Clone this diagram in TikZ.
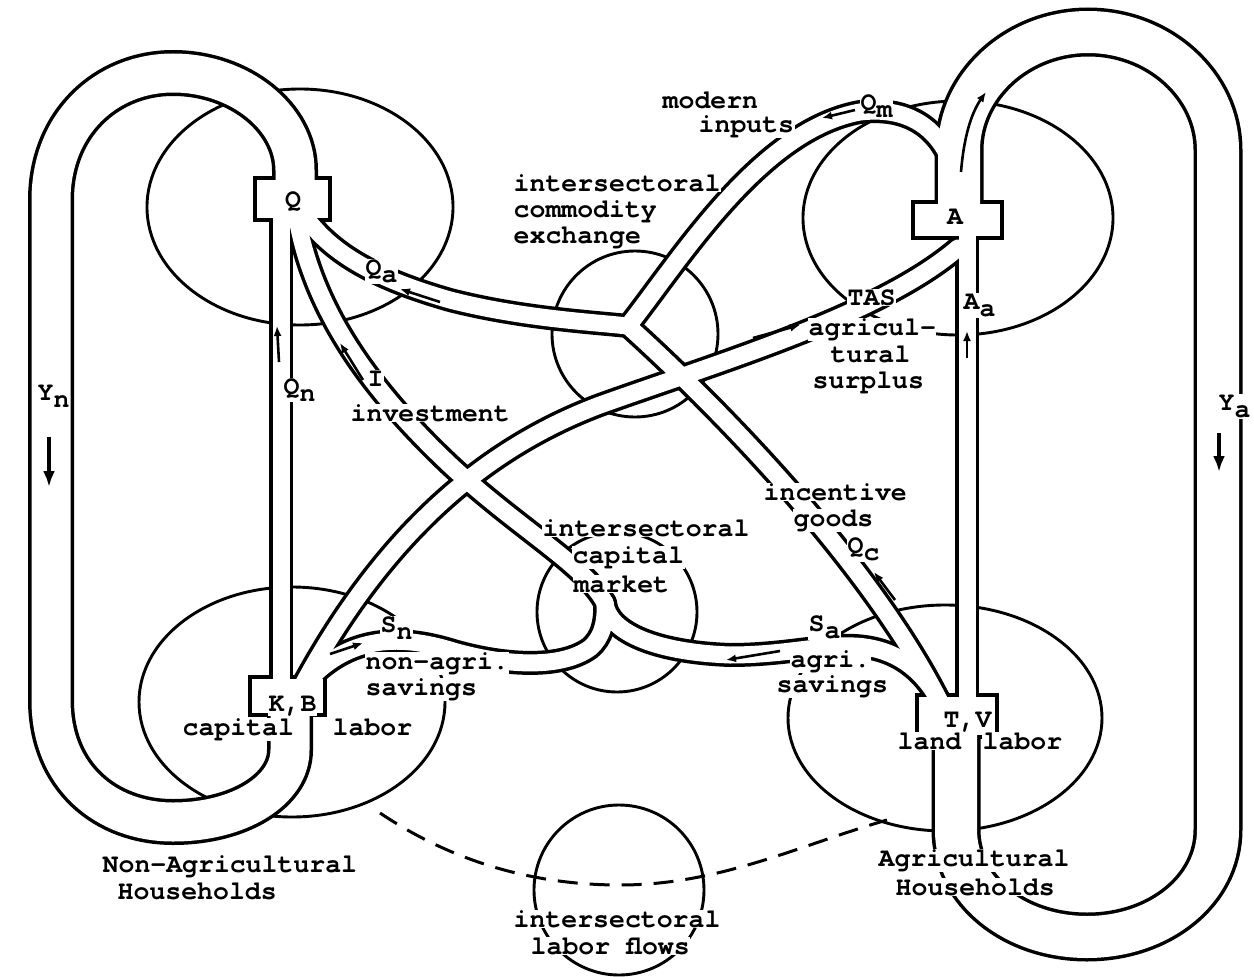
\documentclass[tikz,border=0pt]{standalone}
\usepackage{fontspec}
\usetikzlibrary{arrows.meta}
\newfontfamily\typeface{texgyrecursor-bold.otf}
\newcommand\lowr[1]{\raisebox{-0.30em}{#1}}
\newcommand\typefont{\typeface\fontsize{26.5}{26.5}\selectfont}

% all flow tubes; drawn twice (black outline pass, white core pass) so that
% junctions and crossings merge into open channels
\newcommand\tubenet{%
  \path[loopL] (qloop) -- (295,170) .. controls (295,118) and (240,73) .. (173,73)
     .. controls (106,73) and (51,124) .. (51,200) -- (51,700)
     .. controls (51,777) and (106,822) .. (173,822)
     .. controls (240,822) and (290,790) .. (290,750) -- (kbloop);
  \path[loopR] (aloop) -- (959,150) .. controls (959,86) and (1017,32) .. (1088,32)
     .. controls (1160,32) and (1218,86) .. (1218,150) -- (1218,830)
     .. controls (1218,890) and (1160,937) .. (1087,937)
     .. controls (1014,937) and (956,890) .. (956,830) -- (tvloop);
  \path[pipe] (qn) -- (kbn);
  \path[pipe] (qi) .. controls (310,300) and (360,380) .. (450,465)
     .. controls (520,530) and (585,565) .. (j2);
  \path[pipe] (qa) .. controls (330,255) and (380,280) .. (450,300)
     .. controls (520,318) and (590,322) .. (j1);
  \path[pipe] (j1) .. controls (680,260) and (760,130) .. (860,112)
     .. controls (920,105) and (950,140) .. (am);
  \path[pipe] (j1) .. controls (710,400) and (870,560) .. (tvs);
  \path[pipe] (kbs) .. controls (380,540) and (480,450) .. (600,405)
     .. controls (720,362) and (880,315) .. (as);
  \path[pipe] (aa) -- (tva);
  \path[pipe] (kbs) .. controls (340,640) and (390,632) .. (450,650)
     .. controls (500,665) and (560,670) .. (590,648)
     .. controls (602,638) and (606,622) .. (j2);
  \path[pipe] (j2) .. controls (608,630) and (650,652) .. (730,655)
     .. controls (790,655) and (830,642) .. (865,647)
     .. controls (900,652) and (925,672) .. (tvs);
}

\begin{document}
\begin{tikzpicture}[x=1pt,y=-1pt,
  txt/.style={font=\typefont, anchor=base west, inner sep=0.5pt},
  lbl/.style={txt, fill=white},
  ring/.style={draw=black, line width=2.9},
  hubedge/.style={draw=black, line width=3.4, inner sep=0, outer sep=0},
  hubcore/.style={fill=white, inner sep=0, outer sep=0},
  flow/.style={draw=black, line width=2.6, -{Latex[length=10,width=8]}},
  bigflow/.style={draw=black, line width=4, -{Latex[length=16,width=12]}},
  labourlink/.style={draw=black, line width=3, dash pattern=on 20 off 12},
]
\useasboundingbox (0,0) rectangle (1254,977);

% tube end points and junctions
\coordinate (qloop) at (295,195);
\coordinate (qn) at (281,210);
\coordinate (qi) at (296,212);
\coordinate (qa) at (302,212);
\coordinate (aloop) at (959,215);
\coordinate (am) at (959,190);
\coordinate (aa) at (967,228);
\coordinate (as) at (958,248);
\coordinate (kbloop) at (290,705);
\coordinate (kbn) at (281,690);
\coordinate (kbs) at (300,690);
\coordinate (tvloop) at (956,725);
\coordinate (tva) at (967,708);
\coordinate (tvs) at (942,706);
\coordinate (j1) at (628,326);
\coordinate (j2) at (605,603);
\coordinate (dl1) at (380,813);
\coordinate (dl2) at (887,820);

% sector and market rings
\draw[ring] (300,207) ellipse [x radius=153, y radius=118];
\draw[ring] (958,218) ellipse [x radius=155, y radius=117];
\draw[ring] (292,702) ellipse [x radius=153, y radius=115];
\draw[ring] (945,718) ellipse [x radius=157, y radius=113];
\draw[ring] (635,334) circle [radius=83];
\draw[ring] (617,612) circle [radius=80];
\draw[ring] (619,890) circle [radius=85];

% labour link between the household rings
\draw[labourlink] (dl1) .. controls (450,860) and (530,885) .. (620,885)
   .. controls (720,885) and (800,845) .. (dl2);

% outline pass
\begin{scope}[loopL/.style={draw=black, line width=46},
              loopR/.style={draw=black, line width=49},
              pipe/.style={draw=black, line width=24, line cap=round}]
  \tubenet
\end{scope}

% production and household hubs
\node[hubedge, minimum width=75, minimum height=42] (qbox) at (292.5,199) {};
\node[hubedge, minimum width=89, minimum height=36] (abox) at (957.5,220) {};
\node[hubedge, minimum width=75, minimum height=38] (kbbox) at (287.5,696) {};
\node[hubedge, minimum width=80, minimum height=42] (tvbox) at (957,716) {};

% core pass
\begin{scope}[loopL/.style={draw=white, line width=39},
              loopR/.style={draw=white, line width=42},
              pipe/.style={draw=white, line width=17, line cap=round}]
  \tubenet
\end{scope}

\node[hubcore, minimum width=71.6, minimum height=38.6] (qcore) at (qbox) {};
\node[hubcore, minimum width=85.6, minimum height=32.6] (acore) at (abox) {};
\node[hubcore, minimum width=71.6, minimum height=34.6] (kbcore) at (kbbox) {};
\node[hubcore, minimum width=76.6, minimum height=38.6] (tvcore) at (tvbox) {};

% direction of flows
\draw[bigflow] (49,437) -- (49,487);
\draw[bigflow] (1219,433) -- (1219,472);
\draw[flow] (279,362) -- (277,326);
\draw[flow] (363,380) -- (340,343);
\draw[flow] (440,302) -- (400,289);
\draw[flow] (855,110) -- (822,118);
\draw[flow] (961,172) .. controls (964,135) and (972,112) .. (986,92);
\draw[flow] (967,358) -- (967,331);
\draw[flow] (753,338) -- (800,325);
\draw[flow] (895,600) -- (874,572);
\draw[flow] (780,651) -- (726,660);
\draw[flow] (330,654) -- (363,643);

% labels
\node[txt, anchor=center] (lq) at (293,202) {Q};
\node[txt, anchor=center] (la) at (955,217) {A};
\node[lbl] (tkb) at (268,711) {K,B};
\node[lbl] (ttv) at (943,727) {T,V};

\node[lbl] (tmod) at (662,108) {modern};
\node[lbl] (tinp) at (698,132) {inputs};
\node[lbl] (tce1) at (513,191) {intersectoral};
\node[lbl] (tce2) at (513,217) {commodity};
\node[lbl] (tce3) at (513,243) {exchange};
\node[lbl] (tqa) at (365,275) {Q\lowr{a}};
\node[lbl] (tqn) at (283,394) {Q\lowr{n}};
\node[lbl] (ti) at (367,386) {I};
\node[lbl] (tinv) at (350,421) {investment};
\node[lbl] (tqm) at (860,110) {Q\lowr{m}};
\node[lbl] (ttas) at (847,305) {TAS};
\node[lbl] (tag1) at (808,335) {agricul-};
\node[lbl] (tag2) at (830,362) {tural};
\node[lbl] (tag3) at (812,388) {surplus};
\node[lbl] (taa) at (963,309) {A\lowr{a}};
\node[lbl] (tyn) at (37,400) {Y\lowr{n}};
\node[lbl] (tya) at (1218,410) {Y\lowr{a}};
\node[lbl] (tinc1) at (763,500) {incentive};
\node[lbl] (tinc2) at (793,526) {goods};
\node[lbl] (tqc) at (847,553) {Q\lowr{c}};
\node[lbl] (tcm1) at (542,536) {intersectoral};
\node[lbl] (tcm2) at (572,563) {capital};
\node[lbl] (tcm3) at (573,592) {market};
\node[lbl] (tsn) at (380,632) {S\lowr{n}};
\node[lbl] (tna1) at (365,669) {non-agri.};
\node[lbl] (tna2) at (365,695) {savings};
\node[lbl] (tsa) at (808,631) {S\lowr{a}};
\node[lbl] (tag4) at (790,667) {agri.};
\node[lbl] (tag5) at (776,692) {savings};
\node[lbl] (tland) at (897,749) {land};
\node[lbl] (tlab2) at (982,749) {labor};
\node[lbl] (tcap) at (182,735) {capital};
\node[lbl] (tlab1) at (332,735) {labor};
\node[lbl] (tnah1) at (102,872) {Non-Agricultural};
\node[lbl] (tnah2) at (117,899) {Households};
\node[lbl] (tah1) at (878,866) {Agricultural};
\node[lbl] (tah2) at (895,895) {Households};
\node[lbl] (tlf1) at (513,927) {intersectoral};
\node[lbl] (tlf2) at (530,954) {labor flows};
\end{tikzpicture}
\end{document}
